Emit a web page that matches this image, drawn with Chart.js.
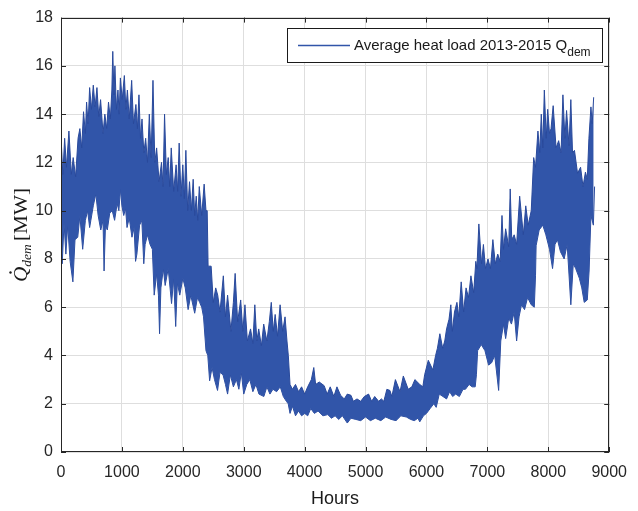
<!DOCTYPE html>
<html>
<head>
<meta charset="utf-8">
<script src="https://cdn.jsdelivr.net/npm/chart.js@4.4.1/dist/chart.umd.min.js"></script>
<style>
  html, body { margin: 0; padding: 0; background: #fff; }
  #wrap { width: 638px; height: 511px; }
</style>
</head>
<body>
<div id="wrap"><canvas id="heatChart" width="638" height="511"></canvas></div>
<script>
// upper and lower edge of the hourly heat load band
const upperHours = [0,30,60,90,130,170,200,240,280,310,340,370,400,420,445,470,500,530,560,590,620,650,690,720,750,780,810,835,850,870,885,910,935,955,975,1005,1040,1065,1090,1120,1160,1190,1230,1255,1280,1305,1330,1360,1390,1420,1450,1480,1510,1540,1570,1610,1650,1675,1700,1730,1760,1785,1810,1850,1890,1915,1940,1970,2000,2025,2050,2080,2110,2140,2170,2195,2220,2245,2270,2310,2350,2380,2400,2415,2465,2500,2540,2573,2610,2665,2700,2735,2790,2830,2859,2900,2950,2985,3020,3060,3112,3150,3182,3215,3246,3290,3328,3380,3420,3452,3485,3516,3555,3597,3640,3678,3710,3732,3760,3800,3850,3900,3950,4000,4050,4110,4150,4180,4240,4320,4370,4420,4480,4530,4590,4650,4700,4760,4800,4860,4920,4980,5050,5100,5150,5215,5260,5300,5350,5400,5432,5490,5566,5620,5700,5760,5810,5890,5940,5970,6030,6105,6150,6180,6220,6266,6300,6330,6370,6400,6425,6460,6500,6530,6570,6610,6650,6690,6730,6775,6810,6828,6860,6904,6935,6969,7010,7050,7090,7130,7170,7210,7240,7265,7300,7350,7375,7400,7440,7480,7530,7590,7630,7670,7720,7760,7790,7830,7860,7885,7910,7935,7966,7990,8020,8045,8080,8128,8170,8210,8240,8273,8300,8340,8370,8398,8430,8480,8530,8570,8610,8640,8667,8700,8721,8745,8760];
const upperLoad = [13.1,11.5,13.0,11.8,13.3,11.5,12.2,11.4,13.0,13.4,12.6,14.1,13.2,14.5,13.6,15.1,14.2,15.2,14.3,15.1,13.9,14.6,13.2,14.0,13.4,14.5,13.8,15.0,16.6,14.8,16.0,14.2,15.0,14.0,15.5,14.6,15.6,14.2,15.0,13.8,15.4,13.6,14.4,13.4,14.8,13.0,13.8,12.4,13.0,12.0,14.0,12.2,15.4,12.0,12.6,11.2,12.0,11.0,14.0,11.5,12.2,11.0,12.6,10.8,11.9,10.8,12.8,10.6,11.9,10.5,12.5,10.0,11.2,10.0,11.3,9.8,10.6,9.6,11.0,9.8,11.1,10.0,10.0,7.7,7.7,6.2,6.8,6.5,5.8,7.3,5.6,6.5,5.0,6.2,7.4,5.4,6.3,5.0,6.1,4.6,5.1,4.5,6.1,4.6,5.1,4.4,5.3,4.6,5.4,6.2,5.0,5.7,4.8,6.1,5.0,5.6,4.6,4.0,2.8,2.6,2.8,2.5,2.7,2.4,2.7,3.0,3.5,2.8,2.9,2.75,2.4,2.7,2.3,2.7,2.35,2.2,2.4,2.35,2.1,2.2,2.1,2.3,2.4,2.1,2.3,2.1,2.2,2.1,2.6,2.55,2.3,3.0,2.5,3.15,2.6,2.7,3.0,2.8,2.7,3.2,3.8,3.4,4.0,4.3,4.9,4.3,4.6,5.1,5.5,6.1,5.0,5.8,6.2,5.6,7.05,5.8,6.8,6.4,7.3,6.6,7.9,7.6,9.45,7.8,8.6,7.6,8.0,7.6,8.8,7.8,8.2,7.9,9.8,8.4,9.25,8.5,10.9,8.8,9.0,8.6,10.6,9.0,10.2,9.4,10.0,12.2,11.8,13.3,12.4,14.0,12.6,15.0,13.0,14.2,13.2,13.4,14.35,12.6,12.9,12.4,14.8,13.0,14.15,12.7,14.6,12.4,12.5,11.55,11.8,11.0,11.6,11.3,13.0,14.3,13.6,14.7];

const lowerHours = [0,20,50,80,110,150,195,230,275,310,356,400,437,470,490,530,572,610,653,690,707,730,760,800,841,880,922,950,976,1000,1030,1060,1084,1120,1165,1200,1224,1246,1290,1327,1359,1381,1420,1462,1500,1530,1570,1600,1618,1640,1680,1710,1760,1815,1850,1883,1910,1950,2000,2040,2087,2130,2195,2240,2276,2310,2340,2380,2410,2440,2480,2520,2570,2610,2660,2700,2735,2780,2830,2880,2920,2960,3000,3050,3100,3150,3200,3250,3330,3380,3430,3480,3540,3600,3650,3700,3730,3760,3800,3850,3900,3950,4000,4050,4100,4160,4220,4300,4380,4440,4500,4560,4620,4700,4760,4840,4920,5000,5080,5160,5250,5330,5420,5500,5580,5670,5740,5800,5860,5890,5950,6000,6060,6120,6160,6210,6270,6330,6380,6430,6480,6540,6600,6640,6700,6750,6800,6820,6840,6900,6960,7020,7070,7120,7185,7220,7265,7300,7350,7395,7440,7480,7520,7560,7610,7660,7720,7770,7790,7800,7850,7910,7960,8020,8070,8110,8150,8200,8260,8310,8370,8410,8450,8510,8550,8590,8640,8670,8700,8740,8760];
const lowerLoad = [8.5,7.8,9.5,8.2,9.4,7.9,7.05,8.8,8.9,9.8,8.4,9.6,10.0,9.3,9.6,10.2,10.7,9.8,9.2,9.6,7.5,9.4,9.2,9.9,10.0,9.6,10.3,10.0,10.9,10.2,9.8,10.1,9.3,9.7,8.9,9.3,7.9,8.2,9.4,9.6,7.8,8.6,9.0,8.6,8.4,6.5,7.4,6.5,4.9,6.8,7.6,6.9,7.6,6.15,7.2,5.2,7.0,6.5,7.2,6.8,5.9,6.5,5.75,6.4,6.2,6.0,5.6,4.2,4.0,2.95,3.5,3.0,2.55,3.3,3.2,2.8,2.4,3.2,2.7,3.0,2.6,3.3,2.4,2.8,3.0,2.5,2.8,2.4,2.3,2.7,2.4,2.6,2.5,2.7,2.3,2.1,2.0,1.6,1.9,1.5,1.7,1.5,1.6,1.5,1.8,1.6,1.7,1.5,1.55,1.4,1.5,1.35,1.5,1.2,1.4,1.35,1.3,1.45,1.3,1.4,1.3,1.45,1.35,1.3,1.5,1.45,1.35,1.3,1.4,1.25,1.5,1.6,1.8,2.0,1.85,2.4,2.3,2.2,2.5,2.3,2.4,2.3,2.6,2.6,2.8,2.7,2.7,3.2,4.2,4.45,4.2,3.6,3.7,4.0,2.55,4.6,5.3,4.7,5.55,5.3,5.8,4.6,5.6,6.1,5.9,6.4,6.1,6.0,7.3,8.55,9.2,9.4,9.0,8.4,7.6,8.6,8.8,8.3,8.0,8.6,6.1,7.8,7.6,7.2,6.8,6.2,6.3,7.5,9.8,9.4,11.0];

const xTicks = [0, 1000, 2000, 3000, 4000, 5000, 6000, 7000, 8000, 9000];
const yTicks = [0, 2, 4, 6, 8, 10, 12, 14, 16, 18];
const legendText = 'Average heat load 2013-2015 Q';
const legendSub = 'dem';

const BLUE = '#3155a9';
const EDGE = '#2a4a9c';
const SANS = '"Liberation Sans", Arial, sans-serif';
const SERIF = '"Liberation Serif", "Times New Roman", serif';

const toPoints = (xs, ys) => xs.map((x, i) => ({ x: x, y: ys[i] }));

// box, inward ticks, legend and y title drawn on top, MATLAB style
const extrasPlugin = {
  id: 'extras',
  afterDraw(chart) {
    const ctx = chart.ctx;
    const a = chart.chartArea;
    const xs = chart.scales.x, ys = chart.scales.y;
    ctx.save();
    ctx.strokeStyle = '#262626';
    ctx.lineWidth = 1;
    ctx.strokeRect(Math.round(a.left) + 0.5, Math.round(a.top) + 0.5,
                   Math.round(a.right - a.left) - 1, Math.round(a.bottom - a.top) - 1);
    ctx.beginPath();
    xTicks.forEach(t => {
      const px = Math.round(xs.getPixelForValue(t)) + 0.5;
      ctx.moveTo(px, a.bottom); ctx.lineTo(px, a.bottom - 5);
      ctx.moveTo(px, a.top); ctx.lineTo(px, a.top + 5);
    });
    yTicks.forEach(t => {
      const py = Math.round(ys.getPixelForValue(t)) + 0.5;
      ctx.moveTo(a.left, py); ctx.lineTo(a.left + 5, py);
      ctx.moveTo(a.right, py); ctx.lineTo(a.right - 5, py);
    });
    ctx.stroke();

    // legend
    ctx.fillStyle = '#fff';
    ctx.fillRect(287, 28, 315, 34);
    ctx.strokeStyle = '#1a1a1a';
    ctx.strokeRect(287.5, 28.5, 315, 34);
    ctx.strokeStyle = BLUE;
    ctx.lineWidth = 1.5;
    ctx.beginPath();
    ctx.moveTo(298, 45.5); ctx.lineTo(350, 45.5);
    ctx.stroke();
    ctx.fillStyle = '#1a1a1a';
    ctx.textBaseline = 'alphabetic';
    ctx.textAlign = 'left';
    ctx.font = '15px ' + SANS;
    ctx.fillText(legendText, 354, 50);
    const lw = ctx.measureText(legendText).width;
    ctx.font = '12px ' + SANS;
    ctx.fillText(legendSub, 354 + lw, 56);

    // y axis title: Q-dot_dem [MW]
    ctx.translate(27, 235);
    ctx.rotate(-Math.PI / 2);
    ctx.font = 'italic 19px ' + SERIF;
    const wQ = ctx.measureText('Q').width;
    ctx.font = 'italic 12px ' + SERIF;
    const wS = ctx.measureText('dem').width + 3;
    ctx.font = '19px ' + SERIF;
    const wU = ctx.measureText('[MW]').width;
    const total = wQ + wS + wU;
    const k = 94 / total;
    ctx.scale(k, 1);
    let u = -total / 2;
    ctx.fillStyle = '#1a1a1a';
    ctx.font = 'italic 19px ' + SERIF;
    ctx.fillText('Q', u, 0);
    ctx.beginPath();
    ctx.arc(u + wQ * 0.62, -16.5, 1.2, 0, Math.PI * 2);
    ctx.fill();
    u += wQ;
    ctx.font = 'italic 12px ' + SERIF;
    ctx.fillText('dem', u, 4);
    u += wS;
    ctx.font = '19px ' + SERIF;
    ctx.fillText('[MW]', u, 0);
    ctx.restore();
  }
};

new Chart(document.getElementById('heatChart'), {
  type: 'line',
  data: {
    datasets: [
      {
        label: 'upper',
        data: toPoints(upperHours, upperLoad),
        borderColor: EDGE,
        backgroundColor: BLUE,
        borderWidth: 1,
        pointRadius: 0,
        tension: 0,
        fill: '+1'
      },
      {
        label: 'lower',
        data: toPoints(lowerHours, lowerLoad),
        borderColor: EDGE,
        backgroundColor: BLUE,
        borderWidth: 1,
        pointRadius: 0,
        tension: 0,
        fill: false
      }
    ]
  },
  options: {
    responsive: false,
    animation: false,
    layout: { padding: { left: 0, right: 20, top: 13, bottom: 0 } },
    plugins: {
      legend: { display: false },
      tooltip: { enabled: false }
    },
    scales: {
      x: {
        type: 'linear',
        min: 0,
        max: 9000,
        afterBuildTicks: s => { s.ticks = xTicks.map(v => ({ value: v })); },
        afterFit: s => { s.height = 59; },
        grid: { color: '#dedede', drawTicks: false, tickLength: 0 },
        border: { display: false },
        ticks: {
          color: '#262626',
          font: { family: SANS, size: 16 },
          padding: 11,
          maxRotation: 0,
          callback: v => String(v)
        },
        title: {
          display: true,
          text: 'Hours',
          color: '#1a1a1a',
          font: { family: SANS, size: 18 },
          padding: { top: 0, bottom: 1 }
        }
      },
      y: {
        min: 0,
        max: 18,
        afterBuildTicks: s => { s.ticks = yTicks.map(v => ({ value: v })); },
        afterFit: s => { s.width = 61; },
        grid: { color: '#dedede', drawTicks: false, tickLength: 0 },
        border: { display: false },
        ticks: {
          color: '#262626',
          font: { family: SANS, size: 16 },
          padding: 8,
          callback: v => String(v)
        }
      }
    }
  },
  plugins: [extrasPlugin]
});
</script>
</body>
</html>
